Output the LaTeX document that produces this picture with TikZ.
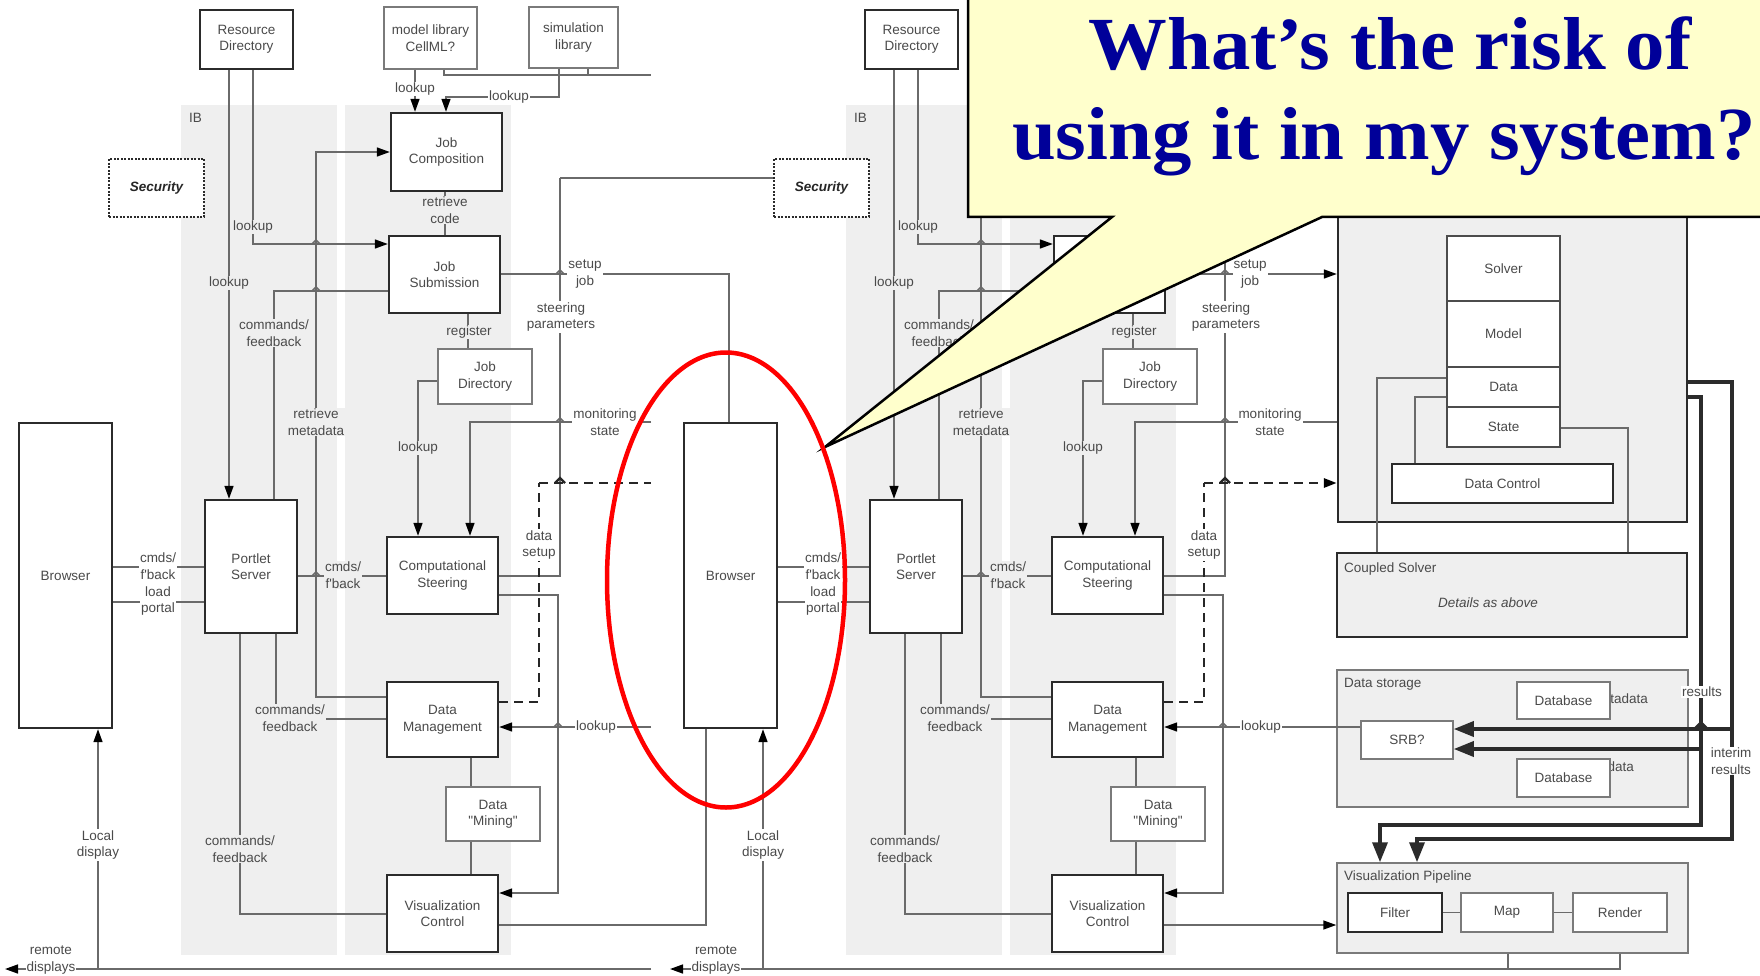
\documentclass[tikz,border=0pt]{standalone}
\usepackage{fontspec}
\usepackage{graphicx}
\usetikzlibrary{arrows.meta}
\newfontfamily\diagfont{Liberation Sans}
\newfontfamily\titlefont{Liberation Serif}
\definecolor{ibgray}{HTML}{EFEFEF}
\definecolor{boxline}{HTML}{2B2B2B}
\definecolor{thinline}{HTML}{7A7A7A}
\definecolor{wire}{HTML}{6A6A6A}
\definecolor{ink}{HTML}{4A4A4A}
\definecolor{callfill}{HTML}{FFFFCC}
\definecolor{titleblue}{RGB}{0,0,153}
\tikzset{
  conn/.style={draw=wire, line width=1.5pt},
  arr/.style={-{Triangle[length=13pt,width=9pt,color=black]}},
  bigarr/.style={-{Triangle[length=20pt,width=15pt,color=boxline]}},
  dsh/.style={draw=black!85, line width=2.8pt, dash pattern=on 9pt off 6pt},
  thk/.style={draw=boxline, line width=3.5pt},
  txt/.style={font=\diagfont\fontsize{13.5}{16.5}\selectfont, text=ink, align=center},
  bx/.style={txt, draw=boxline, line width=2.4pt, fill=white, inner sep=0pt},
  tbx/.style={txt, draw=thinline, line width=1.5pt, fill=white, inner sep=0pt},
  sbx/.style={txt, draw=black!70, line width=1.5pt, fill=white, inner sep=0pt},
  lab/.style={txt, fill=ibgray, inner sep=1pt},
  labw/.style={txt, fill=white, inner sep=1pt},
}
% box: [style]{name}{x,y}{width}{height}{text}
\newcommand{\blk}[6][bx]{\node[#1, minimum width=#4pt, minimum height=#5pt] (#2) at (#3) {#6};}
% small bump where a horizontal wire jumps a vertical one
\newcommand{\hopmark}[2]{\draw[conn] ({#1-4},#2) -- (#1,{#2-4}) -- ({#1+4},#2);}
% text of the upper boxes, left out where the speech bubble sits on top of it
\newcommand{\upper}[1]{#1}

% the portal / steering architecture, boxes and inner wiring
\newcommand{\archdiagram}{%
  \fill[ibgray] (181,105) rectangle (337,955);
  \fill[ibgray] (345,105) rectangle (511,955);
  \node[txt, anchor=west, inner sep=0pt] (ib) at (189,118) {IB};
  \blk{RD}{246.5,39.5}{93}{59}{Resource\\Directory}
  \blk[tbx]{ML}{430.5,38}{93}{62}{\upper{model library\\CellML?}}
  \blk[tbx]{SL}{573.5,37.5}{89}{61}{\upper{simulation\\library}}
  \node[bx, dash pattern=on 2pt off 1.5pt, line width=2.2pt, minimum width=95pt, minimum height=58pt,
        font=\diagfont\bfseries\itshape\fontsize{13.5}{16.5}\selectfont, text=black!85] (SEC) at (156.5,188) {Security};
  \blk{JC}{446.5,152}{111}{78}{\upper{Job\\Composition}}
  \blk{JS}{444.5,274.5}{111}{77}{\upper{Job\\Submission}}
  \blk[tbx]{JD}{485,376.5}{94}{55}{Job\\Directory}
  \blk{PS}{251,566.5}{92}{133}{Portlet\\Server}
  \blk{BR}{65.5,575.5}{93}{305}{Browser}
  \blk{CS}{442.5,575.5}{111}{77}{Computational\\Steering}
  \blk{DM}{442.5,719.5}{111}{75}{Data\\Management}
  \blk[tbx]{DMin}{493,814}{94}{54}{Data\\"Mining"}
  \blk{VC}{442.5,913.5}{111}{77}{Visualization\\Control}
  % wiring
  \draw[conn,arr] (415,0 |- ML.south) -- (415,0 |- JC.north);
  \draw[conn] (444,0 |- ML.south) |- (651,75);
  \draw[conn] (588,0 |- SL.south) -- (588,75);
  \draw[conn,arr] (559,0 |- SL.south) |- (446,97) -- (446,0 |- JC.north);
  \draw[conn,arr] (253,0 |- RD.south) |- (JS.west |- 0,244);
  \draw[conn,arr] (229,0 |- RD.south) -- (229,0 |- PS.north);
  \draw[conn] (JS.west |- 0,291) -| (274,0 |- PS.north);
  \draw[conn,arr] (DM.west |- 0,697) -| (316,152) -- (JC.west |- 0,152);
  \draw[conn] (445,0 |- JC.south) -- (445,0 |- JS.north);
  \draw[conn] (468,0 |- JS.south) -- (468,0 |- JD.north);
  \draw[conn,arr] (JD.west |- 0,381) -| (418,0 |- CS.north);
  \draw[conn] (BR.east |- 0,567) -- (PS.west |- 0,567);
  \draw[conn] (BR.east |- 0,602) -- (PS.west |- 0,602);
  \draw[conn] (PS.east |- 0,576) -- (CS.west |- 0,576);
  \draw[conn] (276,0 |- PS.south) |- (DM.west |- 0,719);
  \draw[conn] (240,0 |- PS.south) |- (VC.west |- 0,914);
  \draw[conn] (471,0 |- DM.south) -- (471,0 |- DMin.north);
  \draw[conn] (471,0 |- DMin.south) -- (471,0 |- VC.north);
  \draw[conn,arr] (98,969) -- (98,0 |- BR.south);
  \draw[conn] (CS.east |- 0,576) -| (560,178);
  \draw[conn,arr] (CS.east |- 0,595) -| (558,893) -- (VC.east |- 0,893);
  \draw[dsh] (DM.east |- 0,702) -| (539,483);
}

% wire labels and jumps, set over the wires
\newcommand{\archlabels}{%
  \hopmark{316}{244}\hopmark{316}{291}\hopmark{316}{576}
  \hopmark{560}{274}\hopmark{560}{422}\hopmark{558}{727}
  \draw[draw=black!85, line width=2.2pt] (555,483) -- (560,478) -- (565,483);
  \node[labw] (t1) at (415,89) {\upper{lookup}};
  \node[labw] (t2) at (509,97) {\upper{lookup}};
  \node[lab] (t3) at (253,227) {lookup};
  \node[lab] (t4) at (229,283) {lookup};
  \node[lab] (t5) at (274,333) {commands/\\feedback};
  \node[lab] (t6) at (316,422) {retrieve\\metadata};
  \node[lab] (t7) at (445,210) {\upper{retrieve\\code}};
  \node[lab] (t8) at (469,332) {register};
  \node[lab] (t9) at (418,448) {lookup};
  \node[labw] (t10) at (158,566) {cmds/\\f'back};
  \node[labw] (t11) at (158,601) {load\\portal};
  \node[lab] (t12) at (343,575) {cmds/\\f'back};
  \node[lab] (t13) at (290,718) {commands/\\feedback};
  \node[lab] (t14) at (240,849) {commands/\\feedback};
  \node[labw] (t15) at (98,845) {Local\\display};
  \node[labw] (t16) at (51,960) {remote\\displays};
  \node[labw] (t17) at (585,274) {setup\\job};
  \node[labw] (t18) at (561,317) {steering\\parameters};
  \node[labw] (t19) at (605,422) {monitoring\\state};
  \node[labw] (t20) at (539,545) {data\\setup};
  \node[labw] (t21) at (596,727) {lookup};
}

\begin{document}
\begin{tikzpicture}[x=1pt, y=-1pt]
\useasboundingbox (0,0) rectangle (1760,976);
\clip (0,0) rectangle (1760,976);
\fill[white] (0,0) rectangle (1760,976);

\begin{scope}[name prefix=L-]
  \archdiagram
\end{scope}
\begin{scope}[xshift=665pt, name prefix=R-]
  \renewcommand{\upper}[1]{}
  \archdiagram
\end{scope}

% simulation engine, storage and visualization pipeline
\node[bx, fill=ibgray, minimum width=349pt, minimum height=332pt] (SIM) at (1512.5,356) {};
\blk[sbx]{SOL}{1503.5,268.5}{113}{65}{Solver}
\blk[sbx]{MOD}{1503.5,334}{113}{66}{Model}
\blk[sbx]{DAT}{1503.5,387}{113}{40}{Data}
\blk[sbx]{STA}{1503.5,427}{113}{40}{State}
\blk{DC}{1502.5,483.5}{221}{39}{Data Control}
\node[bx, fill=ibgray, minimum width=350pt, minimum height=84pt] (CSV) at (1512,595) {};
\node[txt, anchor=west, inner sep=0pt] (csvt) at (1344,569) {Coupled Solver};
\node[txt, font=\diagfont\itshape\fontsize{13.5}{16.5}\selectfont] (csvd) at (1488,603) {Details as above};
\node[tbx, fill=ibgray, minimum width=351pt, minimum height=137pt] (DS) at (1512.5,738.5) {};
\node[txt, anchor=west, inner sep=0pt] (dst) at (1344,684) {Data storage};
\node[txt, anchor=east, inner sep=0pt] (md1) at (1648,699) {metadata};
\node[txt, anchor=east, inner sep=0pt] (md2) at (1634,767) {data};
\blk[tbx]{DB1}{1563.5,700.5}{93}{37}{Database}
\blk[tbx]{DB2}{1563.5,778}{93}{38}{Database}
\blk[tbx]{SRB}{1407,740}{92}{38}{SRB?}
\node[tbx, fill=ibgray, minimum width=351pt, minimum height=90pt] (VP) at (1512.5,908) {};
\node[txt, anchor=west, inner sep=0pt] (vpt) at (1344,877) {Visualization Pipeline};
\node[bx, line width=2pt, minimum width=94pt, minimum height=39pt] (FIL) at (1395,912.5) {Filter};
\blk[tbx]{MAP}{1507,912.5}{92}{39}{Map}
\blk[tbx]{REN}{1620,912.5}{94}{39}{Render}

\draw[conn] (DAT.west |- 0,378) -| (1377,0 |- CSV.north);
\draw[conn] (DAT.west |- 0,397) -| (1415,0 |- DC.north);
\draw[conn] (STA.east |- 0,428) -| (1628,0 |- CSV.north);
\draw[conn] (FIL.east) -- (MAP.west);
\draw[conn] (MAP.east) -- (REN.west);

\draw[thk,bigarr] (SIM.east |- 0,382) -| (1732,839) -| (1417,0 |- VP.north);
\draw[thk,bigarr] (SIM.east |- 0,397) -| (1701,825) -| (1380,0 |- VP.north);
\draw[thk,bigarr] (1701,749) -- (SRB.east |- 0,749);
\draw[thk,bigarr] (1732,729) -- (SRB.east |- 0,729);
\draw[thk] (1695,729) -- (1701,723) -- (1707,729);
\node[labw] (res1) at (1702,692) {results};
\node[labw] (res2) at (1731,761) {interim\\results};

% wires leaving the left copy
\draw[conn] (560,178) -- (R-SEC.west |- 0,178);
\draw[conn] (L-JS.east |- 0,274) -| (729,0 |- R-BR.north);
\draw[conn,arr] (651,422) -| (470,0 |- L-CS.north);
\draw[dsh] (539,483) -- (651,483);
\draw[conn,arr] (651,727) -- (L-DM.east |- 0,727);
\draw[conn] (L-VC.east |- 0,925) -| (706,0 |- R-BR.south);
\draw[conn,arr] (651,969) -- (5,969);

% wires leaving the right copy
\draw[conn] (1225,178) -- (SIM.west |- 0,178);
\draw[conn,arr] (R-JS.east |- 0,274) -- (SIM.west |- 0,274);
\draw[conn,arr] (SIM.west |- 0,422) -| (1135,0 |- R-CS.north);
\draw[dsh,arr] (1204,483) -- (SIM.west |- 0,483);
\draw[conn,arr] (SRB.west |- 0,727) -- (R-DM.east |- 0,727);
\draw[conn,arr] (R-VC.east |- 0,925) -- (VP.west |- 0,925);
\draw[conn,arr] (1620,0 |- VP.south) |- (670,969);
\draw[conn] (1508,0 |- VP.south) -- (1508,969);

\begin{scope}[name prefix=L-]
  \archlabels
\end{scope}
\begin{scope}[xshift=665pt, name prefix=R-]
  \renewcommand{\upper}[1]{}
  \archlabels
\end{scope}

% speech bubble
\draw[fill=callfill, draw=black, line width=2.5pt, line join=miter]
  (968,-10) -- (1780,-10) -- (1780,217) -- (1322,217) -- (825,447) -- (1112,217) -- (968,217) -- cycle;
\node[anchor=base, inner sep=0pt, text=titleblue, font=\titlefont\bfseries\fontsize{75}{90}\selectfont]
  (q1) at (1390,70) {\scalebox{1.05}[1]{What’s the risk of}};
\node[anchor=base, inner sep=0pt, text=titleblue, font=\titlefont\bfseries\fontsize{75}{90}\selectfont]
  (q2) at (1384,160) {\scalebox{1.05}[1]{using it in my system?}};

% highlight ring
\draw[red, line width=4.5pt] (726,580) ellipse [x radius=119pt, y radius=227.5pt];
\end{tikzpicture}
\end{document}
